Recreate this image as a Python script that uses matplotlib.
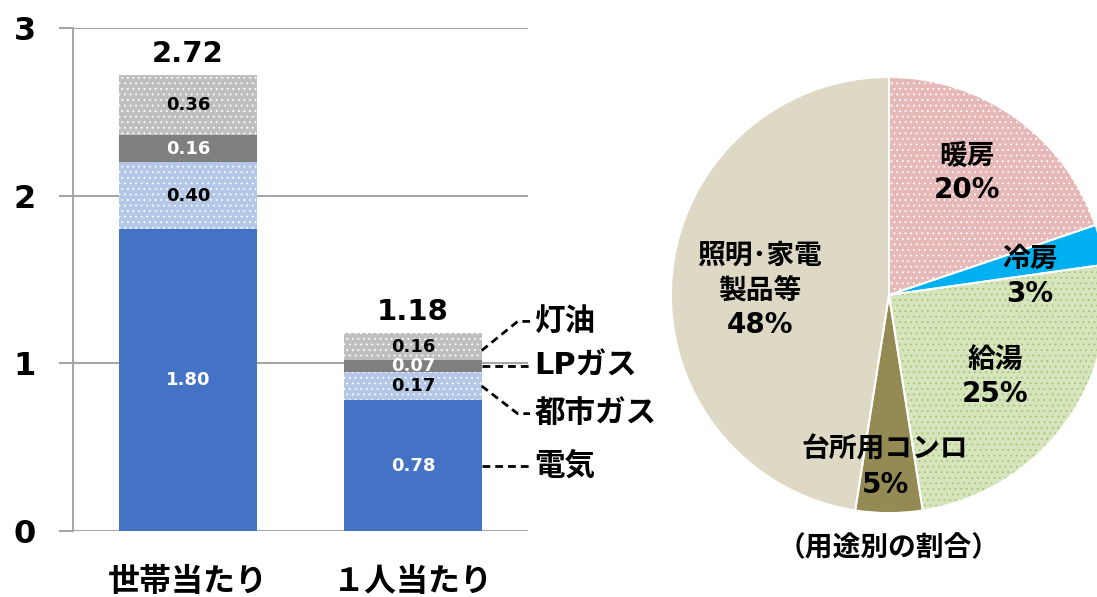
import matplotlib
matplotlib.use("Agg")
import matplotlib.pyplot as plt
import numpy as np

plt.rcParams['font.family'] = ['DejaVu Sans', 'Noto Sans CJK JP']
plt.rcParams['font.weight'] = 'bold'
plt.rcParams['hatch.linewidth'] = 0.6

# ---- data ----
categories = ['世帯当たり', '１人当たり']
sources = ['電気', '都市ガス', 'LPガス', '灯油']
denki = [1.80, 0.78]
toshigas = [0.40, 0.17]
lpgas = [0.16, 0.07]
touyu = [0.36, 0.16]
totals = [2.72, 1.18]
yticks = [0, 1, 2, 3]

pie_labels = ['暖房', '冷房', '給湯', '台所用コンロ', '照明･家電\n製品等']
pie_values = [20, 3, 25, 5, 48]
pie_title = '（用途別の割合）'

# ---- styles ----
bar_colors = ['#4472C4', '#B4C7E7', '#7F7F7F', '#BFBFBF']
bar_hatch = [None, '...', None, '...']
val_colors = ['white', 'black', 'white', 'black']
pie_colors = ['#E6B9B8', '#00B0F0', '#D7E4BD', '#948A54', '#DDD9C4']
pie_hatch_colors = ['white', '#00B0F0', '#9BCB6A', '#948A54', '#DDD9C4']
pie_hatch = ['...', None, '...', None, None]
grid_c = '#A6A6A6'

W, H = 1097, 597
fig = plt.figure(figsize=(W / 100, H / 100), dpi=100)

# ---- bar axes ----
ax = fig.add_axes([73 / W, (H - 531) / H, 455 / W, 503 / H])
x = np.arange(len(categories))
series = [denki, toshigas, lpgas, touyu]
bottom = np.zeros(len(categories))
for i, vals in enumerate(series):
    vals = np.array(vals)
    ax.bar(x, vals, 0.61, bottom=bottom, color=bar_colors[i],
           hatch=bar_hatch[i], edgecolor='white', linewidth=0, zorder=3)
    for xi, b, v in zip(x, bottom, vals):
        ax.text(xi, b + v / 2, f'{v:.2f}', ha='center', va='center',
                fontsize=13, color=val_colors[i], zorder=5)
    bottom = bottom + vals

for xi, t in zip(x, totals):
    ax.text(xi, t + 0.04, f'{t:.2f}', ha='center', va='bottom', fontsize=21)

ax.set_xlim(-0.511, 1.511)
ax.set_ylim(0, 3)
ax.set_yticks(yticks)
ax.set_yticklabels([str(v) for v in yticks], fontsize=23)
ax.set_xticks(x)
ax.set_xticklabels(categories, fontsize=23)
ax.tick_params(axis='y', length=10, width=1.5, color=grid_c, pad=17)
ax.tick_params(axis='x', length=0, pad=26)
ax.grid(axis='y', color=grid_c, linewidth=1.5, zorder=0)
for s in ['top', 'right', 'bottom']:
    ax.spines[s].set_visible(False)
ax.spines['left'].set_color(grid_c)
ax.spines['left'].set_linewidth(1.5)

# leader lines and source labels
x0 = 1 + 0.61 / 2
xk = 1.465
xe = 1.52
xt = 1.54
leader = dict(color='black', linewidth=2.0, linestyle=(0, (2.8, 1.8)), clip_on=False, zorder=4)
# 灯油
b_top = denki[1] + toshigas[1] + lpgas[1]
ax.plot([x0, xk, xe], [b_top + touyu[1] * 0.35, 1.25, 1.25], **leader)
ax.text(xt, 1.25, sources[3], ha='left', va='center', fontsize=22)
# LPガス
y_lp = denki[1] + toshigas[1] + lpgas[1] / 2
ax.plot([x0, xe], [y_lp, y_lp], **leader)
ax.text(xt, y_lp, sources[2], ha='left', va='center', fontsize=22)
# 都市ガス
y_tg = denki[1] + toshigas[1] * 0.5
ax.plot([x0, xk, xe], [y_tg, 0.70, 0.70], **leader)
ax.text(xt, 0.70, sources[1], ha='left', va='center', fontsize=22)
# 電気
ax.plot([x0, xe], [0.39, 0.39], **leader)
ax.text(xt, 0.39, sources[0], ha='left', va='center', fontsize=22)

# ---- pie axes ----
cx, cy, r = 889, 295, 218
pax = fig.add_axes([(cx - r) / W, (H - cy - r) / H, 2 * r / W, 2 * r / H])
wedges, _ = pax.pie(pie_values, colors=pie_colors, startangle=90, counterclock=False,
                    radius=1, wedgeprops=dict(linewidth=0))
for w, h, hc in zip(wedges, pie_hatch, pie_hatch_colors):
    if h:
        w.set_hatch(h)
        w.set_edgecolor(hc)
pax.pie(pie_values, colors=['none'] * 5, startangle=90, counterclock=False, radius=1,
        wedgeprops=dict(linewidth=1.4, edgecolor='white', fill=False))
pax.set_xlim(-1, 1)
pax.set_ylim(-1, 1)
pax.set_aspect('auto')
pax.axis('off')

pct = [f'{v}%' for v in pie_values]
label_pos = [(0.358, 0.56), (0.647, 0.085), (0.486, -0.376), (-0.018, -0.79), (-0.592, 0.02)]
for lab, p, (lx, ly) in zip(pie_labels, pct, label_pos):
    pax.text(lx, ly, f'{lab}\n{p}', ha='center', va='center', fontsize=20,
             linespacing=1.3, clip_on=False)
pax.text(0.0, -1.16, pie_title, ha='center', va='center', fontsize=20, clip_on=False)

fig.savefig('out.png', dpi=100)
